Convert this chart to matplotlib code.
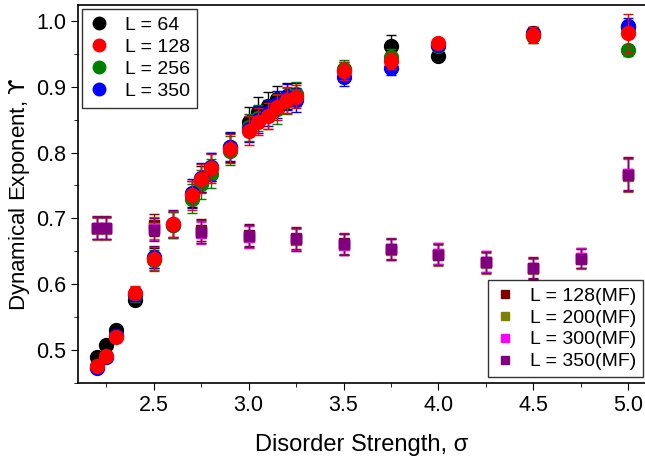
import numpy as np
import matplotlib
matplotlib.use('Agg')
import matplotlib.pyplot as plt
from matplotlib.markers import MarkerStyle
from matplotlib.transforms import Affine2D
from matplotlib.lines import Line2D
from matplotlib.ticker import MultipleLocator

# data
sigma = [2.2, 2.25, 2.3, 2.4, 2.5, 2.6, 2.7, 2.75, 2.8, 2.9, 3.0, 3.05, 3.1, 3.15, 3.2, 3.25, 3.5, 3.75, 4.0, 4.5, 5.0]
L64 = [0.490, 0.507, 0.530, 0.576, 0.640, 0.690, 0.737, 0.760, 0.778, 0.808, 0.847, 0.862, 0.870, 0.881, 0.886, 0.888, 0.926, 0.962, 0.947, 0.982, 0.990]
L128 = [0.476, 0.491, 0.520, 0.587, 0.639, 0.691, 0.735, 0.760, 0.776, 0.806, 0.833, 0.847, 0.855, 0.869, 0.880, 0.885, 0.924, 0.939, 0.966, 0.978, 0.981]
L256 = [0.474, 0.490, 0.522, 0.583, 0.636, 0.690, 0.730, 0.752, 0.768, 0.803, 0.838, 0.852, 0.858, 0.866, 0.878, 0.889, 0.927, 0.945, 0.962, 0.977, 0.955]
L350 = [0.472, 0.489, 0.521, 0.585, 0.641, 0.692, 0.738, 0.762, 0.778, 0.809, 0.836, 0.850, 0.860, 0.873, 0.884, 0.880, 0.915, 0.929, 0.963, 0.980, 0.992]
err64 = [0.005, 0.005, 0.005, 0.008, 0.015, 0.020, 0.020, 0.020, 0.022, 0.022, 0.022, 0.022, 0.022, 0.020, 0.020, 0.018, 0.012, 0.016, 0.004, 0.008, 0.010]
err128 = [0.005, 0.005, 0.005, 0.010, 0.017, 0.020, 0.022, 0.022, 0.022, 0.022, 0.022, 0.020, 0.020, 0.020, 0.020, 0.018, 0.014, 0.012, 0.008, 0.012, 0.030]
err256 = [0.005, 0.005, 0.005, 0.010, 0.016, 0.020, 0.022, 0.022, 0.022, 0.022, 0.020, 0.020, 0.022, 0.022, 0.020, 0.018, 0.013, 0.012, 0.006, 0.010, 0.008]
err350 = [0.005, 0.005, 0.005, 0.010, 0.017, 0.020, 0.022, 0.022, 0.022, 0.022, 0.020, 0.020, 0.020, 0.020, 0.020, 0.018, 0.014, 0.012, 0.006, 0.010, 0.012]

sigma_mf = [2.2, 2.25, 2.5, 2.75, 3.0, 3.25, 3.5, 3.75, 4.0, 4.25, 4.5, 4.75, 5.0]
MF128 = [0.686, 0.686, 0.690, 0.682, 0.675, 0.670, 0.662, 0.654, 0.646, 0.634, 0.625, 0.640, 0.768]
MF200 = [0.684, 0.684, 0.685, 0.679, 0.672, 0.667, 0.660, 0.652, 0.644, 0.632, 0.623, 0.638, 0.765]
MF300 = [0.685, 0.685, 0.684, 0.678, 0.672, 0.669, 0.660, 0.653, 0.646, 0.634, 0.624, 0.640, 0.767]
MF350 = [0.685, 0.685, 0.683, 0.680, 0.673, 0.668, 0.661, 0.653, 0.645, 0.633, 0.624, 0.639, 0.766]
err_mf = [0.017, 0.017, 0.017, 0.017, 0.017, 0.017, 0.016, 0.016, 0.016, 0.016, 0.016, 0.015, 0.025]

plt.rcParams['font.family'] = ['Liberation Sans', 'DejaVu Sans']
plt.rcParams['mathtext.fontset'] = 'custom'
plt.rcParams['mathtext.rm'] = 'DejaVu Sans'

fig = plt.figure(figsize=(6.45, 4.57), dpi=100)
ax = fig.add_axes([0.121, 0.162, 0.879, 0.827])

highlight = MarkerStyle('o', transform=Affine2D().scale(0.35).translate(-0.1, 0.14))

# MF series (squares)
mf_series = [(MF128, '#800000', 'L = 128(MF)'), (MF200, '#808000', 'L = 200(MF)'),
             (MF300, '#ff00ff', 'L = 300(MF)'), (MF350, '#800080', 'L = 350(MF)')]
mf_handles = []
for i, (vals, col, lab) in enumerate(mf_series):
    ax.errorbar(sigma_mf, vals, yerr=err_mf, fmt='s', color=col, ms=7, mec=col,
                ecolor=col, elinewidth=1, capsize=3.5, capthick=1, zorder=2 + i * 0.1)
    mf_handles.append(Line2D([], [], ls='none', marker='s', ms=6, color=col, label=lab))

# L series (spheres)
l_series = {'L = 64': (L64, err64, 'black', 3),
            'L = 128': (L128, err128, 'red', 6),
            'L = 256': (L256, err256, 'green', 4),
            'L = 350': (L350, err350, 'blue', 5)}
l_handles = []
for lab, (vals, err, col, z) in l_series.items():
    ax.errorbar(sigma, vals, yerr=err, fmt='o', color=col, ms=10, mec=col,
                ecolor=col, elinewidth=1, capsize=3.5, capthick=1, zorder=z)
    ax.plot(sigma, vals, ls='none', marker=highlight, ms=10, color='white',
            alpha=0.55, mew=0, zorder=z + 0.05)
    l_handles.append(Line2D([], [], ls='none', marker='o', ms=9, color=col, label=lab))

ax.set_xlim(2.1, 5.09)
ax.set_ylim(0.45, 1.024)
ax.xaxis.set_major_locator(MultipleLocator(0.5))
ax.xaxis.set_minor_locator(MultipleLocator(0.25))
ax.yaxis.set_major_locator(MultipleLocator(0.1))
ax.yaxis.set_minor_locator(MultipleLocator(0.05))
ax.tick_params(which='both', direction='out', labelsize=15.5)
ax.tick_params(which='major', length=5)
ax.tick_params(which='minor', length=3)
ax.spines['right'].set_visible(False)
for s in ['left', 'bottom', 'top']:
    ax.spines[s].set_linewidth(1.2)

ax.set_xlabel('Disorder Strength, σ', fontsize=17, labelpad=13)
ax.set_ylabel(r'Dynamical Exponent, $\mathrm{ϒ}$', fontsize=16, labelpad=3)

leg1 = ax.legend(handles=l_handles, loc='upper left', fontsize=14, frameon=True,
                 fancybox=False, edgecolor='black', handlelength=1.0, handletextpad=0.8,
                 borderaxespad=0.2, labelspacing=0.22, borderpad=0.4)
leg1.get_frame().set_linewidth(1)
ax.add_artist(leg1)
leg2 = ax.legend(handles=mf_handles, loc='lower right', fontsize=14, frameon=True,
                 fancybox=False, edgecolor='black', handlelength=1.0, handletextpad=0.8,
                 borderaxespad=0.3, labelspacing=0.22, borderpad=0.35,
                 bbox_to_anchor=(1.007, 0.0))
leg2.get_frame().set_linewidth(1)

fig.savefig('out.png', dpi=100)
